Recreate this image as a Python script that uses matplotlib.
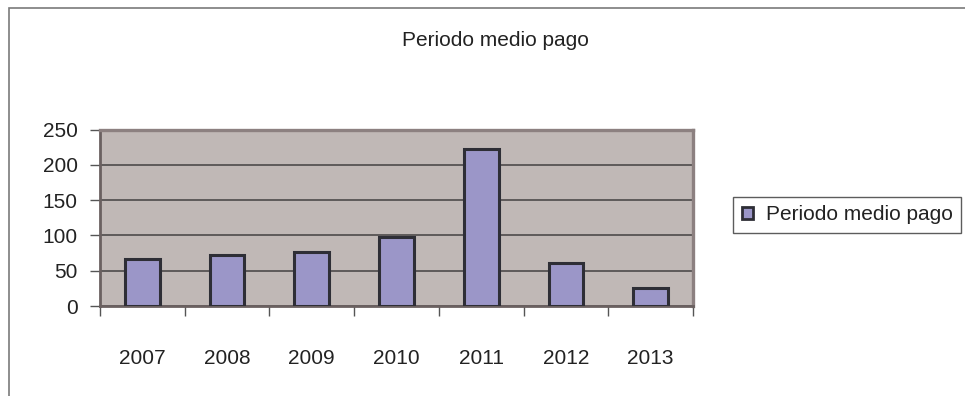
import matplotlib.pyplot as plt
from matplotlib.patches import Patch, Rectangle
import numpy as np

years = ["2007", "2008", "2009", "2010", "2011", "2012", "2013"]
periodo = [67, 72, 77, 98, 223, 61, 26]
yticks = [0, 50, 100, 150, 200, 250]
title = "Periodo medio pago"

plt.rcParams['font.family'] = ['Liberation Sans', 'DejaVu Sans']

fig = plt.figure(figsize=(9.65, 3.96), dpi=100)
ax = fig.add_axes([100 / 965, 1 - 306 / 396, 593 / 965, 176.5 / 396])

# outer chart frame, cut off on the right and bottom
fig.patches.append(Rectangle((9 / 965, -0.1), 1.1, 1 - 8 / 396 + 0.1,
                             transform=fig.transFigure, fill=False,
                             edgecolor="#7a7a7a", linewidth=1.2))

x = np.arange(len(years))
ax.set_facecolor("#c0b8b6")
ax.bar(x, periodo, width=0.41, color="#9b96c8", edgecolor="#2e2e36",
       linewidth=2.2, zorder=3)

ax.set_ylim(0, 250)
ax.set_xlim(-0.5, len(years) - 0.5)
ax.set_yticks(yticks)
ax.yaxis.grid(True, color="#5e5a5a", linewidth=1.4, zorder=1)
ax.set_axisbelow(True)

# ticks on category boundaries, labels at centres
ax.set_xticks(np.arange(len(years) + 1) - 0.5)
ax.set_xticklabels([])
ax.set_xticks(x, minor=True)
ax.set_xticklabels(years, minor=True)
ax.tick_params(axis="x", which="major", length=7, width=1, color="#555555", direction="out")
ax.tick_params(axis="x", which="minor", length=0, pad=31, labelsize=15, labelcolor="#222222")
ax.tick_params(axis="y", length=7, width=1, color="#555555", pad=9, labelsize=15, labelcolor="#222222")

for s in ["top", "right"]:
    ax.spines[s].set_color("#8c8080")
    ax.spines[s].set_linewidth(2.4)
ax.spines["left"].set_color("#6a6060")
ax.spines["left"].set_linewidth(2.0)
ax.spines["bottom"].set_color("#6a6060")
ax.spines["bottom"].set_linewidth(2.0)

fig.text(495 / 965, 1 - 40 / 396, title, ha="center", va="center",
         fontsize=15, color="#222222")

handle = Patch(facecolor="#9b96c8", edgecolor="#2e2e36", linewidth=2)
leg = fig.legend([handle], [title], loc="center left",
                 bbox_to_anchor=(733 / 965, 1 - 215 / 396),
                 fontsize=15, frameon=True, fancybox=False,
                 handlelength=0.55, handleheight=0.55, handletextpad=0.6,
                 borderpad=0.42, borderaxespad=0)
leg.get_frame().set_edgecolor("#333333")
leg.get_frame().set_linewidth(1.0)
for t in leg.get_texts():
    t.set_color("#222222")

fig.savefig("out.png", dpi=100)
